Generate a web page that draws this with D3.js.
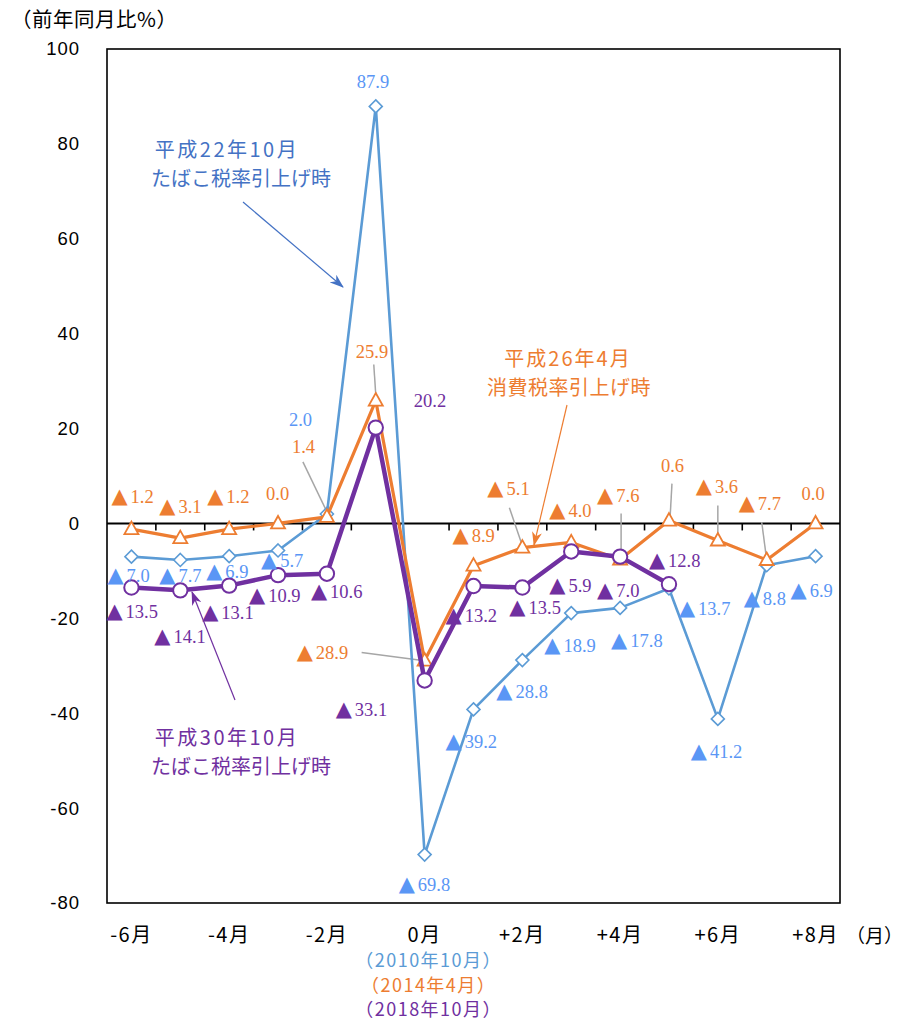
<!DOCTYPE html>
<html>
<head>
<meta charset="utf-8">
<script src="https://cdn.jsdelivr.net/npm/d3@7"></script>
<style>
  html, body { margin: 0; padding: 0; background: #fff; }
  svg { display: block; }
</style>
</head>
<body>
<div id="chart"></div>
<script>
// ---------------- data ----------------
const categories = ["-6月","-5月","-4月","-3月","-2月","-1月","0月","+1月","+2月","+3月","+4月","+5月","+6月","+7月","+8月"];
const xTickLabels = ["-6月","-4月","-2月","0月","+2月","+4月","+6月","+8月"];
const yTicks = [100, 80, 60, 40, 20, 0, -20, -40, -60, -80];

const tobacco2010 = [-7.0, -7.7, -6.9, -5.7, 2.0, 87.9, -69.8, -39.2, -28.8, -18.9, -17.8, -13.7, -41.2, -8.8, -6.9];
const consumption2014 = [-1.2, -3.1, -1.2, 0.0, 1.4, 25.9, -28.9, -8.9, -5.1, -4.0, -7.6, 0.6, -3.6, -7.7, 0.0];
const tobacco2018 = [-13.5, -14.1, -13.1, -10.9, -10.6, 20.2, -33.1, -13.2, -13.5, -5.9, -7.0, -12.8];

const yAxisTitle = "（前年同月比%）";
const xAxisUnit = "（月）";
const baseMonthLabels = ["（2010年10月）", "（2014年4月）", "（2018年10月）"];
const annotation2010 = ["平成22年10月", "たばこ税率引上げ時"];
const annotation2014 = ["平成26年4月", "消費税率引上げ時"];
const annotation2018 = ["平成30年10月", "たばこ税率引上げ時"];

// ---------------- label placement (offsets from the data point) ----------------
const blueLabelOffsets = [[-23,25],[-20,22],[-22,22],[-16,17],[-37,-88],[-18,-18],[-25,36],[-27,39],[-25,38],[-26,39],[-8,39],[11,27],[-26,39],[-22,40],[-24,41]];
const orangeLabelOffsets = [[-19,-26],[-20,-25],[-21,-26],[-11,-23],[-34,-64],[-19,-43],[-127,-2],[-20,-24],[-34,-53],[-21,-25],[-22,-58],[-7,-49],[-21,-48],[-27,-50],[-13,-23]];
const purpleLabelOffsets = [[-24,31],[-25,53],[-26,33],[-28,27],[-15,24],[39,-21],[-88,36],[-27,36],[-12,27],[-21,41],[-22,40],[-19,-17]];
// leader lines for the orange series: [index, startDx, startDy, endDx, endDy]
const orangeLeaders = [[4,-24,-55,0,-5],[5,-2,-36,0,-6],[6,-63,-8,-2,0],[8,-13,-40,0,-2],[10,1,-46,1,-2],[11,3,-37,1,-1],[12,0,-35,0,-3],[13,-5,-38,0,0]];

// ---------------- setup ----------------
const W = 917, H = 1024;
const C = {
  blue: "#5B9BD5", blueLabel: "#5A96F5", blueNote: "#4472C4",
  orange: "#ED7D31", purple: "#7030A0", grey: "#A6A6A6"
};
const SANS = "'Noto Sans CJK JP', 'Liberation Sans', sans-serif";
const SERIF = "'Liberation Serif', 'DejaVu Serif', serif";

const svg = d3.select("#chart").append("svg").attr("width", W).attr("height", H);

const x = d3.scaleBand().domain(categories).range([107, 840]).padding(0);
const cx = c => x(c) + x.bandwidth() / 2;
const y = d3.scaleLinear().domain([-80, 100]).range([903, 49]);

// arrow markers
const defs = svg.append("defs");
[["arrBlue", C.blueNote], ["arrOrange", C.orange], ["arrPurple", C.purple]].forEach(([id, col]) => {
  defs.append("marker").attr("id", id)
    .attr("viewBox", "0 0 14 10").attr("refX", 13).attr("refY", 5)
    .attr("markerWidth", 14).attr("markerHeight", 10)
    .attr("markerUnits", "userSpaceOnUse").attr("orient", "auto")
    .append("path").attr("d", "M0,0 L14,5 L0,10 L4,5 Z").attr("fill", col);
});

// frame
svg.append("rect").attr("x", 107).attr("y", 49).attr("width", 733).attr("height", 854)
  .attr("fill", "none").attr("stroke", "#000").attr("stroke-width", 1.6);

// y axis
const yAxis = svg.append("g").attr("transform", "translate(107,0)")
  .call(d3.axisLeft(y).tickValues(yTicks).tickSize(0).tickPadding(27).tickFormat(d => String(d)));
yAxis.select(".domain").remove();
yAxis.selectAll("text").attr("font-family", "'Liberation Sans', Arial, sans-serif")
  .attr("font-size", 18.5).attr("letter-spacing", 1).attr("fill", "#000");

// x axis labels
const xAxis = svg.append("g").attr("transform", "translate(0,903)")
  .call(d3.axisBottom(x).tickValues(xTickLabels).tickSize(0).tickPadding(25));
xAxis.select(".domain").remove();
xAxis.selectAll("text").attr("font-family", SANS).attr("font-size", 20)
  .attr("letter-spacing", 1.5).attr("fill", "#000");

// zero line with ticks at band boundaries
svg.append("line").attr("x1", 107).attr("x2", 840).attr("y1", y(0)).attr("y2", y(0))
  .attr("stroke", "#000").attr("stroke-width", 2);
svg.append("g").selectAll("line").data(categories.slice(1)).join("line")
  .attr("x1", d => x(d)).attr("x2", d => x(d))
  .attr("y1", y(0)).attr("y2", y(0) + 7)
  .attr("stroke", "#000").attr("stroke-width", 1.6);

// titles
svg.append("text").attr("x", 11).attr("y", 27).attr("font-family", SANS).attr("font-size", 20.5)
  .attr("letter-spacing", 0.5).attr("fill", "#000").text(yAxisTitle);
svg.append("text").attr("x", 846).attr("y", 943).attr("font-family", SANS).attr("font-size", 19)
  .attr("fill", "#000").text(xAxisUnit);
const baseColors = [C.blue, C.orange, C.purple];
const baseY = [967, 992, 1016];
baseMonthLabels.forEach((t, i) => {
  svg.append("text").attr("x", cx("0月") + 4).attr("y", baseY[i]).attr("text-anchor", "middle")
    .attr("font-family", SANS).attr("font-size", 18).attr("letter-spacing", 1.5)
    .attr("fill", baseColors[i]).text(t);
});

// leader lines
svg.append("g").selectAll("line").data(orangeLeaders).join("line")
  .attr("x1", d => cx(categories[d[0]]) + d[1]).attr("y1", d => y(consumption2014[d[0]]) + d[2])
  .attr("x2", d => cx(categories[d[0]]) + d[3]).attr("y2", d => y(consumption2014[d[0]]) + d[4])
  .attr("stroke", C.grey).attr("stroke-width", 1.5);

// series
const line = d3.line().x((d, i) => cx(categories[i])).y(d => y(d));

function drawSeries(values, color, width) {
  svg.append("path").datum(values).attr("d", line)
    .attr("fill", "none").attr("stroke", color).attr("stroke-width", width)
    .attr("stroke-linejoin", "round");
}

drawSeries(tobacco2010, C.blue, 2.6);
svg.append("g").selectAll("path").data(tobacco2010).join("path")
  .attr("transform", (d, i) => `translate(${cx(categories[i])},${y(d)})`)
  .attr("d", "M0,-6.5 L6.5,0 L0,6.5 L-6.5,0 Z")
  .attr("fill", "#fff").attr("stroke", C.blue).attr("stroke-width", 1.6);

drawSeries(consumption2014, C.orange, 3.2);
svg.append("g").selectAll("path").data(consumption2014).join("path")
  .attr("transform", (d, i) => `translate(${cx(categories[i])},${y(d)})`)
  .attr("d", "M0,-7.5 L7,5 L-7,5 Z")
  .attr("fill", "#fff").attr("stroke", C.orange).attr("stroke-width", 1.8);

drawSeries(tobacco2018, C.purple, 4.5);
svg.append("g").selectAll("circle").data(tobacco2018).join("circle")
  .attr("cx", (d, i) => cx(categories[i])).attr("cy", d => y(d)).attr("r", 7.2)
  .attr("fill", "#fff").attr("stroke", C.purple).attr("stroke-width", 2);

// data labels
function drawLabels(values, offsets, color) {
  const g = svg.append("g");
  values.forEach((v, i) => {
    const t = g.append("text")
      .attr("x", cx(categories[i]) + offsets[i][0] - 1)
      .attr("y", y(v) + offsets[i][1])
      .attr("fill", color);
    if (v < 0) {
      t.append("tspan").attr("font-family", "'DejaVu Sans', sans-serif").attr("font-size", 21).text("▲");
      t.append("tspan").attr("dx", 3).attr("font-family", SERIF).attr("font-size", 18.5)
        .text(Math.abs(v).toFixed(1));
    } else {
      t.append("tspan").attr("font-family", SERIF).attr("font-size", 18.5).text(v.toFixed(1));
    }
  });
}
drawLabels(tobacco2010, blueLabelOffsets, C.blueLabel);
drawLabels(consumption2014, orangeLabelOffsets, C.orange);
drawLabels(tobacco2018, purpleLabelOffsets, C.purple);

// annotations
function annotate(lines, color, centers, baselines, spacing, arrow, markerId) {
  lines.forEach((t, i) => {
    svg.append("text").attr("x", centers[i]).attr("y", baselines[i]).attr("text-anchor", "middle")
      .attr("font-family", SANS).attr("font-size", 20).attr("letter-spacing", spacing[i])
      .attr("fill", color).text(t);
  });
  svg.append("line").attr("x1", arrow[0]).attr("y1", arrow[1]).attr("x2", arrow[2]).attr("y2", arrow[3])
    .attr("stroke", color).attr("stroke-width", 1.2).attr("marker-end", `url(#${markerId})`);
}
annotate(annotation2010, C.blueNote, [227, 241], [157, 186], [2.5, 0], [243, 202, 343, 287], "arrBlue");
annotate(annotation2014, C.orange, [568, 569], [366, 395], [2, 0.5], [567, 405, 534, 545], "arrOrange");
annotate(annotation2018, C.purple, [227, 241], [745, 774], [2.5, 0], [235, 700, 192, 592], "arrPurple");
</script>
</body>
</html>
